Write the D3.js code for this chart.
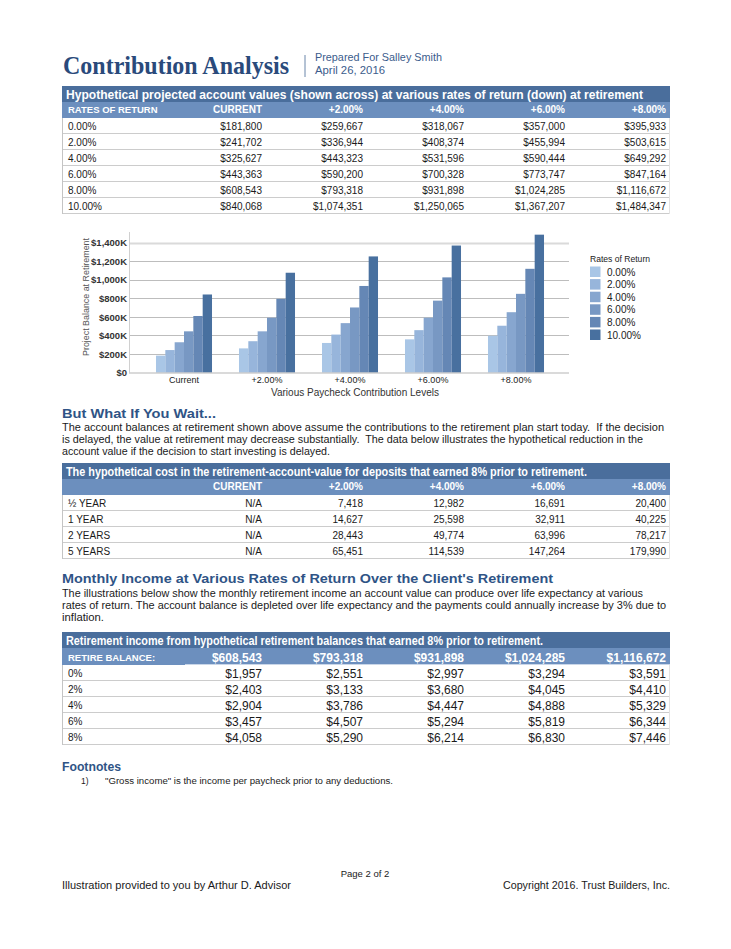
<!DOCTYPE html>
<html><head><meta charset="utf-8">
<script src="https://cdn.jsdelivr.net/npm/d3@7/dist/d3.min.js"></script>
<style>html,body{margin:0;padding:0;background:#fff}svg{display:block}</style>
</head><body>
<script>
// ---------- DATA ----------
const rates = ["0.00%","2.00%","4.00%","6.00%","8.00%","10.00%"];
const levels = ["CURRENT","+2.00%","+4.00%","+6.00%","+8.00%"];
const chartLevels = ["Current","+2.00%","+4.00%","+6.00%","+8.00%"];
const accountValues = [
  [181800,259667,318067,357000,395933],
  [241702,336944,408374,455994,503615],
  [325627,443323,531596,590444,649292],
  [443363,590200,700328,773747,847164],
  [608543,793318,931898,1024285,1116672],
  [840068,1074351,1250065,1367207,1484347]
];
const yTicks = [0,200000,400000,600000,800000,1000000,1200000,1400000];
const delays = ["½ YEAR","1 YEAR","2 YEARS","5 YEARS"];
const delayCosts = [
  [null,7418,12982,16691,20400],
  [null,14627,25598,32911,40225],
  [null,28443,49774,63996,78217],
  [null,65451,114539,147264,179990]
];
const retireBalances = [608543,793318,931898,1024285,1116672];
const incomeRates = ["0%","2%","4%","6%","8%"];
const monthlyIncome = [
  [1957,2551,2997,3294,3591],
  [2403,3133,3680,4045,4410],
  [2904,3786,4447,4888,5329],
  [3457,4507,5294,5819,6344],
  [4058,5290,6214,6830,7446]
];
const barColors = ["#a9c6e6","#97b5db","#87a6cf","#7898c3","#6587b5","#48709f"];

// ---------- SETUP ----------
const W = 731, H = 949;
const SANS = "'Liberation Sans', Arial, sans-serif";
const svg = d3.select("body").append("svg").attr("width", W).attr("height", H);
svg.append("rect").attr("width", W).attr("height", H).attr("fill", "#fff");

function txt(g, x, y, s, o = {}) {
  const t = g.append("text").attr("x", x).attr("y", y).text(s)
    .attr("font-family", o.family || SANS)
    .attr("font-size", o.size || 10)
    .attr("font-weight", o.weight || "normal")
    .attr("fill", o.fill || "#1a1a1a")
    .attr("text-anchor", o.anchor || "start");
  if (o.len) t.attr("textLength", o.len).attr("lengthAdjust", "spacingAndGlyphs");
  return t;
}

const DARK = "#4a6e9c", MID = "#6c8fbe", HEAD = "#2f5486";
const L = 62, R = 670;
const colX = d3.scalePoint().domain(levels).range([262, 666]);

// ---------- PAGE HEADER ----------
txt(svg, 63, 74, "Contribution Analysis", {family:"'Liberation Serif', 'Times New Roman', serif", size:24.5, weight:"bold", fill:"#2a4a7b", len:226});
svg.append("line").attr("x1",305).attr("x2",305).attr("y1",55).attr("y2",77).attr("stroke","#6b86aa").attr("stroke-width",1);
txt(svg, 315, 61, "Prepared For Salley Smith", {size:10.5, fill:"#3b5c8c", len:127});
txt(svg, 315, 74, "April 26, 2016", {size:10.5, fill:"#3b5c8c", len:70});

// ---------- TABLE HELPER ----------
function tableFrame(top, title, titleLen, nRows, rowH, subH) {
  const g = svg.append("g");
  g.append("rect").attr("x",L).attr("y",top).attr("width",R-L).attr("height",16).attr("fill",DARK);
  txt(g, 66, top+12.5, title, {size:12.5, weight:"bold", fill:"#fff", len:titleLen});
  g.append("rect").attr("x",L).attr("y",top+16).attr("width",R-L).attr("height",subH).attr("fill",MID);
  const r0 = top+16+subH;
  const yRow = d3.scaleLinear().domain([0,nRows]).range([r0, r0+nRows*rowH]);
  d3.range(nRows).forEach(i=>{
    g.append("line").attr("x1",L).attr("x2",R).attr("y1",yRow(i+1)-0.5).attr("y2",yRow(i+1)-0.5).attr("stroke","#cccccc");
  });
  g.append("line").attr("x1",L+0.5).attr("x2",L+0.5).attr("y1",r0).attr("y2",yRow(nRows)).attr("stroke","#c4c4c4");
  g.append("line").attr("x1",R-0.5).attr("x2",R-0.5).attr("y1",r0).attr("y2",yRow(nRows)).attr("stroke","#e2e2e2");
  return {g, yRow, r0};
}

// ---------- TABLE 1 ----------
{
  const t = tableFrame(86, "Hypothetical projected account values (shown across) at various rates of return (down) at retirement", 577, 6, 16, 16);
  txt(t.g, 68, 113, "RATES OF RETURN", {size:9.5, weight:"bold", fill:"#fff"});
  levels.forEach(c=>txt(t.g, colX(c), 113, c, {size:10, weight:"bold", fill:"#fff", anchor:"end"}));
  const f = d3.format("$,");
  rates.forEach((r,i)=>{
    const y = t.yRow(i)+11.5;
    txt(t.g, 68, y, r, {size:10});
    accountValues[i].forEach((v,j)=>txt(t.g, colX(levels[j]), y, f(v), {size:10, anchor:"end"}));
  });
}

// ---------- CHART ----------
{
  const g = svg.append("g");
  const y = d3.scaleLinear().domain([0,1400000]).range([372.5, 242.5]);
  const x0 = d3.scaleBand().domain(chartLevels).range([142.5,557.5]).paddingInner(0.325).paddingOuter(0.1625);
  const x1 = d3.scaleBand().domain(rates).range([0, x0.bandwidth()]);
  const gx0 = 129, gx1 = 569;
  yTicks.forEach(t=>{
    if (t===0) return;
    const top = t===1400000;
    g.append("line").attr("x1",gx0).attr("x2",gx1).attr("y1",Math.round(y(t))+0.5).attr("y2",Math.round(y(t))+0.5)
      .attr("stroke", top ? "#dadada" : "#bdbdbd").attr("stroke-width", top ? 2 : 1);
  });
  accountValues.forEach((row,i)=>{
    row.forEach((v,j)=>{
      g.append("rect").attr("x", x0(chartLevels[j]) + x1(rates[i])).attr("width", x1.bandwidth())
        .attr("y", y(v)).attr("height", y(0)-y(v)).attr("fill", barColors[i]);
    });
  });
  g.append("line").attr("x1",gx0).attr("x2",gx1).attr("y1",373).attr("y2",373).attr("stroke","#b5b5b5");
  g.append("line").attr("x1",gx0+0.5).attr("x2",gx0+0.5).attr("y1",232).attr("y2",373).attr("stroke","#d0d0d0");
  const yf = d => d===0 ? "$0" : "$" + d3.format(",")(d/1000) + "K";
  const ya = g.append("g").attr("transform", `translate(${gx0},0)`).call(d3.axisLeft(y).tickValues(yTicks).tickFormat(yf).tickSize(0).tickPadding(2));
  ya.select(".domain").remove();
  ya.selectAll("text").attr("font-family",SANS).attr("font-size",9.5).attr("font-weight","bold").attr("fill","#333").attr("dy","0.35em");
  const xa = g.append("g").attr("transform","translate(0,373)").call(d3.axisBottom(x0).tickSize(0).tickPadding(4));
  xa.select(".domain").remove();
  xa.selectAll("text").attr("font-family",SANS).attr("font-size",9).attr("fill","#222");
  txt(g, 355, 396, "Various Paycheck Contribution Levels", {size:10, fill:"#333", anchor:"middle", len:168});
  txt(g, 0, 0, "Project Balance at Retirement", {size:9.5, fill:"#555", anchor:"middle", len:118})
    .attr("transform","translate(89,297) rotate(-90)");
  txt(g, 590, 262, "Rates of Return", {size:9, fill:"#222", len:60});
  rates.forEach((r,i)=>{
    const ly = 266.5 + i*12.6;
    g.append("rect").attr("x",590).attr("y",ly).attr("width",10.5).attr("height",10.5).attr("fill",barColors[i]);
    txt(g, 607, ly+9, r, {size:10, fill:"#222"});
  });
}

// ---------- SECTION 2 ----------
txt(svg, 62, 418, "But What If You Wait...", {size:12.5, weight:"bold", fill:HEAD, len:154});
txt(svg, 62, 431, "The account balances at retirement shown above assume the contributions to the retirement plan start today.  If the decision", {size:10.2, len:602}).attr("xml:space","preserve");
txt(svg, 62, 443, "is delayed, the value at retirement may decrease substantially.  The data below illustrates the hypothetical reduction in the", {size:10.2, len:581}).attr("xml:space","preserve");
txt(svg, 62, 455, "account value if the decision to start investing is delayed.", {size:10.2, len:268});

{
  const t = tableFrame(463, "The hypothetical cost in the retirement-account-value for deposits that earned 8% prior to retirement.", 521, 4, 16, 16);
  levels.forEach(c=>txt(t.g, colX(c), 490, c, {size:10, weight:"bold", fill:"#fff", anchor:"end"}));
  const f = d3.format(",");
  delays.forEach((d,i)=>{
    const y = t.yRow(i)+11.5;
    txt(t.g, 68, y, d, {size:10});
    delayCosts[i].forEach((v,j)=>txt(t.g, colX(levels[j]), y, v===null ? "N/A" : f(v), {size:10, anchor:"end"}));
  });
}

// ---------- SECTION 3 ----------
txt(svg, 62, 583, "Monthly Income at Various Rates of Return Over the Client's Retirement", {size:12.5, weight:"bold", fill:HEAD, len:491});
txt(svg, 62, 597, "The illustrations below show the monthly retirement income an account value can produce over life expectancy at various", {size:10.2, len:581});
txt(svg, 62, 609, "rates of return. The account balance is depleted over life expectancy and the payments could annually increase by 3% due to", {size:10.2, len:604});
txt(svg, 62, 621, "inflation.", {size:10.2, len:42});

{
  const t = tableFrame(632, "Retirement income from hypothetical retirement balances that earned 8% prior to retirement.", 477, 5, 16, 17);
  txt(t.g, 68, 661, "RETIRE BALANCE:", {size:9.5, weight:"bold", fill:"#fff"});
  t.g.append("line").attr("x1",185).attr("x2",R).attr("y1",664.5).attr("y2",664.5).attr("stroke","#c9d6e8");
  const f = d3.format("$,");
  retireBalances.forEach((v,j)=>txt(t.g, colX(levels[j]), 662, f(v), {size:12, weight:"bold", fill:"#fff", anchor:"end"}));
  incomeRates.forEach((r,i)=>{
    const y = t.yRow(i)+12;
    txt(t.g, 68, y, r, {size:10});
    monthlyIncome[i].forEach((v,j)=>txt(t.g, colX(levels[j]), y+0.5, f(v), {size:12, anchor:"end"}));
  });
}

// ---------- FOOTNOTES ----------
txt(svg, 62, 771, "Footnotes", {size:12, weight:"bold", fill:HEAD, len:59});
txt(svg, 81, 784, "1)", {size:8.5});
txt(svg, 105, 784, "\"Gross income\" is the income per paycheck prior to any deductions.", {size:8.5, len:288});

// ---------- FOOTER ----------
txt(svg, 365, 877, "Page 2 of 2", {size:9.5, anchor:"middle"});
txt(svg, 62, 889, "Illustration provided to you by Arthur D. Advisor", {size:10.2, len:229});
txt(svg, 670, 889, "Copyright 2016. Trust Builders, Inc.", {size:10.2, anchor:"end", len:167});
</script>
</body></html>
